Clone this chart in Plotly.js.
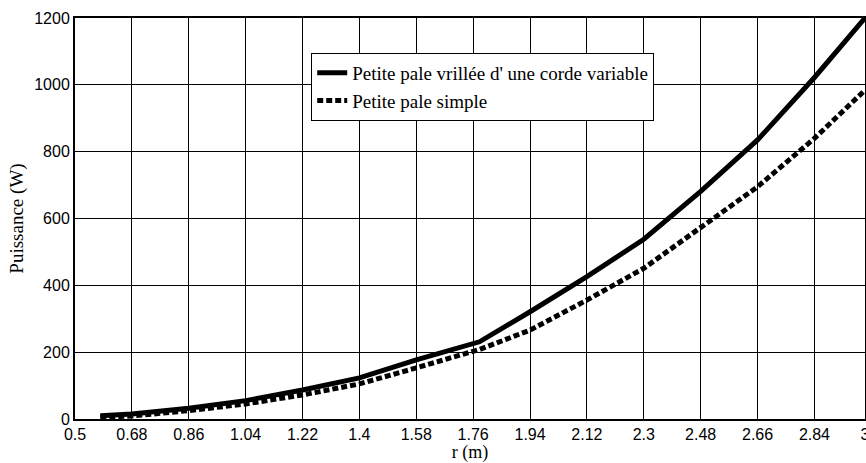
<!DOCTYPE html>
<html>
<head>
<meta charset="utf-8">
<script src="https://cdn.plot.ly/plotly-3.0.1.min.js"></script>
<style>html,body{margin:0;padding:0;background:#fff;}#chart{width:866px;height:463px;}</style>
</head>
<body>
<div id="chart"></div>
<script>
// Data
const rValues = [0.58, 0.68, 0.86, 1.04, 1.22, 1.4, 1.58, 1.76, 1.78, 1.94, 2.12, 2.3, 2.48, 2.66, 2.84, 3.0];
const puissanceVrillee = [10, 15, 32, 55, 87, 123, 177, 225, 231, 321, 426, 538, 681, 835, 1022, 1200];
const puissanceSimple = [5, 9, 25, 45, 72, 105, 153, 202, 208, 266, 356, 451, 575, 695, 840, 984];
const seriesNames = ["Petite pale vrillée d' une corde variable", "Petite pale simple"];
const xTickVals = [0.5, 0.68, 0.86, 1.04, 1.22, 1.4, 1.58, 1.76, 1.94, 2.12, 2.3, 2.48, 2.66, 2.84, 3];
const xTickText = ["0.5", "0.68", "0.86", "1.04", "1.22", "1.4", "1.58", "1.76", "1.94", "2.12", "2.3", "2.48", "2.66", "2.84", "3"];
const yTickVals = [0, 200, 400, 600, 800, 1000, 1200];

const SERIF = "Times New Roman, Liberation Serif, serif";
const SANS = "Arial, Liberation Sans, sans-serif";

const traces = [
  {x: rValues, y: puissanceVrillee, name: seriesNames[0], type: 'scatter', mode: 'lines',
   legendgroup: 'a', line: {color: '#000', width: 5}},
  {x: rValues, y: puissanceSimple, name: seriesNames[1], type: 'scatter', mode: 'lines',
   legendgroup: 'b', line: {color: '#000', width: 5, dash: '6px,3px'}}
];

const layout = {
  width: 866, height: 463,
  margin: {l: 75, r: 1, t: 18, b: 44},
  paper_bgcolor: '#fff', plot_bgcolor: '#fff',
  showlegend: true,
  legend: {
    x: 0.299, y: 0.913, xanchor: 'left', yanchor: 'top',
    bgcolor: '#fff', bordercolor: '#000', borderwidth: 1,
    font: {family: SERIF, size: 19, color: '#000'},
    traceorder: 'grouped', tracegroupgap: 0, itemwidth: 30,
    entrywidth: 360, entrywidthmode: 'pixels'
  },
  xaxis: {
    range: [0.5, 3], tickmode: 'array', tickvals: xTickVals, ticktext: xTickText,
    showgrid: true, gridcolor: '#000', gridwidth: 1,
    showline: true, linecolor: '#000', linewidth: 2, mirror: true,
    ticks: '', zeroline: false, ticklabeloverflow: 'allow',
    tickfont: {family: SANS, size: 16, color: '#000'},
    title: {text: 'r (m)', standoff: 3, font: {family: SERIF, size: 18, color: '#000'}}
  },
  yaxis: {
    range: [0, 1200], tickmode: 'array', tickvals: yTickVals,
    showgrid: true, gridcolor: '#000', gridwidth: 1,
    showline: true, linecolor: '#000', linewidth: 2, mirror: true,
    ticks: '', zeroline: false,
    tickfont: {family: SANS, size: 16, color: '#000'},
    title: {text: 'Puissance (W)', standoff: 6, font: {family: SERIF, size: 19, color: '#000'}}
  }
};

Plotly.newPlot('chart', traces, layout, {displayModeBar: false, staticPlot: true});
</script>
</body>
</html>
